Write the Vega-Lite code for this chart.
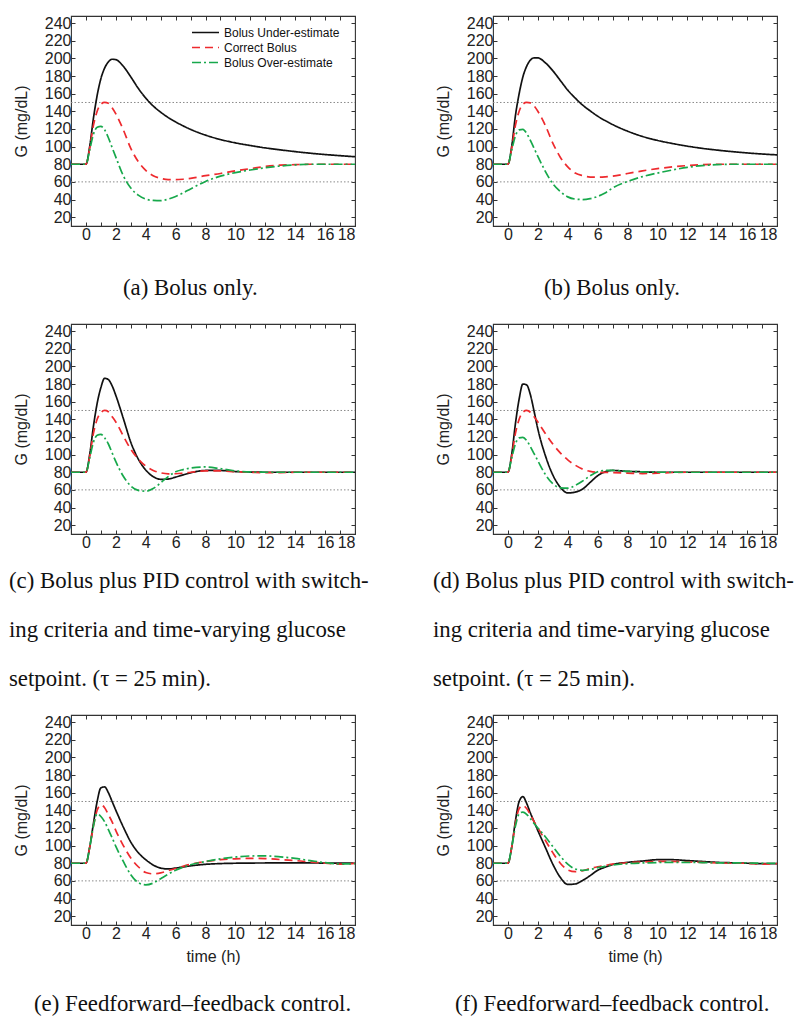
{
"$schema": "https://vega.github.io/schema/vega-lite/v6.json",
"padding": {"left": 8, "top": 14, "right": 0, "bottom": 0},
"background": "white",
"config": {
  "view": {"stroke": "#333333", "strokeWidth": 1.1},
  "axis": {"domain": false, "grid": false, "tickSize": -4, "tickColor": "#333333", "tickWidth": 1, "labelFont": "Liberation Sans", "labelFontSize": 16, "labelColor": "#222222", "labelPadding": 4, "titleFont": "Liberation Sans", "titleFontSize": 16, "titleFontWeight": "normal", "titleColor": "#222222", "titlePadding": 15},
  "title": {"font": "Liberation Serif", "fontSize": 22.8, "fontWeight": "normal", "color": "#111111", "orient": "bottom", "anchor": "start", "frame": "group", "align": "left"},
  "legend": {"orient": "none", "legendX": 120, "legendY": 9, "title": null, "labelFont": "Liberation Sans", "labelFontSize": 12, "labelColor": "#111111", "symbolType": "stroke", "symbolSize": 729, "symbolStrokeWidth": 1.7, "rowPadding": 0, "clipHeight": 15, "labelOffset": 4, "padding": 0}
},
"datasets": {
"curves": [
{"p":"a","t":-1,"U":80,"C":80,"O":80},{"p":"a","t":0,"U":80,"C":80,"O":80},{"p":"a","t":0.25,"U":100,"C":98,"O":96},{"p":"a","t":0.5,"U":132,"C":124,"O":114},{"p":"a","t":0.75,"U":158,"C":140,"O":122},{"p":"a","t":1,"U":177,"C":148,"O":123},{"p":"a","t":1.25,"U":189,"C":150,"O":119},{"p":"a","t":1.5,"U":196,"C":149,"O":110},{"p":"a","t":1.75,"U":199,"C":144,"O":99},{"p":"a","t":2,"U":198.5,"C":137,"O":88},{"p":"a","t":2.5,"U":191,"C":119,"O":67},{"p":"a","t":3,"U":179,"C":98,"O":53},{"p":"a","t":3.5,"U":166,"C":83,"O":45},{"p":"a","t":4,"U":155,"C":73,"O":40.5},{"p":"a","t":4.5,"U":146,"C":67,"O":39},{"p":"a","t":5,"U":139,"C":64,"O":38.7},{"p":"a","t":5.5,"U":133,"C":62.5,"O":40.5},{"p":"a","t":6,"U":128,"C":62.5,"O":43.5},{"p":"a","t":6.5,"U":123.5,"C":63,"O":47.5},{"p":"a","t":7,"U":119.5,"C":64,"O":52},{"p":"a","t":8,"U":113,"C":67,"O":60.5},{"p":"a","t":9,"U":108,"C":69.5,"O":66.5},{"p":"a","t":10,"U":104.2,"C":72.5,"O":70.5},{"p":"a","t":11,"U":101.2,"C":75,"O":73.5},{"p":"a","t":12,"U":98.5,"C":77.5,"O":76},{"p":"a","t":13,"U":96.3,"C":79,"O":78},{"p":"a","t":14,"U":94.3,"C":79.5,"O":79.3},{"p":"a","t":15,"U":92.5,"C":80,"O":80},{"p":"a","t":16,"U":91,"C":80,"O":80},{"p":"a","t":17,"U":89.7,"C":80,"O":80},{"p":"a","t":18,"U":88.5,"C":80,"O":80},
{"p":"b","t":-1,"U":80,"C":80,"O":80},{"p":"b","t":0,"U":80,"C":80,"O":80},{"p":"b","t":0.25,"U":100,"C":98,"O":96},{"p":"b","t":0.5,"U":135,"C":124,"O":112},{"p":"b","t":0.75,"U":160,"C":140,"O":119},{"p":"b","t":1,"U":179,"C":148,"O":119.5},{"p":"b","t":1.25,"U":191,"C":150,"O":115},{"p":"b","t":1.5,"U":198,"C":149.5,"O":107},{"p":"b","t":1.75,"U":200.5,"C":146,"O":98},{"p":"b","t":2,"U":200.5,"C":140,"O":89},{"p":"b","t":2.5,"U":195,"C":124,"O":72},{"p":"b","t":3,"U":186,"C":104,"O":58},{"p":"b","t":3.5,"U":175,"C":88,"O":49},{"p":"b","t":4,"U":164,"C":77,"O":43},{"p":"b","t":4.5,"U":155,"C":70,"O":40.5},{"p":"b","t":5,"U":147,"C":67,"O":40},{"p":"b","t":5.5,"U":140.5,"C":65.5,"O":41},{"p":"b","t":6,"U":134.5,"C":65.3,"O":43.5},{"p":"b","t":6.5,"U":129.5,"C":65.7,"O":47.5},{"p":"b","t":7,"U":125,"C":66.5,"O":53},{"p":"b","t":8,"U":117.5,"C":69.5,"O":60.5},{"p":"b","t":9,"U":111.5,"C":72.5,"O":66},{"p":"b","t":10,"U":107,"C":75,"O":70},{"p":"b","t":11,"U":103.5,"C":77,"O":73.5},{"p":"b","t":12,"U":100.5,"C":78.5,"O":76.5},{"p":"b","t":13,"U":98,"C":79.5,"O":78.5},{"p":"b","t":14,"U":96,"C":80,"O":79.5},{"p":"b","t":15,"U":94.3,"C":80,"O":80},{"p":"b","t":16,"U":92.8,"C":80,"O":80},{"p":"b","t":17,"U":91.6,"C":80,"O":80},{"p":"b","t":18,"U":90.6,"C":80,"O":80},
{"p":"c","t":-1,"U":80,"C":80,"O":80},{"p":"c","t":0,"U":80,"C":80,"O":80},{"p":"c","t":0.25,"U":100,"C":98,"O":96},{"p":"c","t":0.5,"U":132,"C":124,"O":114},{"p":"c","t":0.75,"U":158,"C":140,"O":122},{"p":"c","t":1,"U":176,"C":147.5,"O":123},{"p":"c","t":1.25,"U":186.5,"C":150,"O":119},{"p":"c","t":1.5,"U":185,"C":148.5,"O":112},{"p":"c","t":1.75,"U":178,"C":143,"O":102},{"p":"c","t":2,"U":167,"C":137,"O":92},{"p":"c","t":2.5,"U":141,"C":121,"O":75.5},{"p":"c","t":3,"U":114,"C":106,"O":64.5},{"p":"c","t":3.5,"U":95,"C":95,"O":59.5},{"p":"c","t":4,"U":82.5,"C":87,"O":58.5},{"p":"c","t":4.5,"U":75,"C":82,"O":61.5},{"p":"c","t":5,"U":72,"C":79.3,"O":68},{"p":"c","t":5.5,"U":72.3,"C":78.2,"O":75},{"p":"c","t":6,"U":74.5,"C":78.3,"O":80.5},{"p":"c","t":6.5,"U":77,"C":79,"O":83},{"p":"c","t":7,"U":79.3,"C":80,"O":84.8},{"p":"c","t":8,"U":82,"C":81.5,"O":86},{"p":"c","t":9,"U":82,"C":81.5,"O":84},{"p":"c","t":10,"U":80.8,"C":80.5,"O":81.5},{"p":"c","t":11,"U":80.2,"C":80,"O":80.3},{"p":"c","t":12,"U":80,"C":79.5,"O":80},{"p":"c","t":13,"U":80,"C":79.5,"O":80},{"p":"c","t":14,"U":80,"C":80,"O":80},{"p":"c","t":15,"U":80,"C":80,"O":80},{"p":"c","t":16,"U":80,"C":80,"O":80},{"p":"c","t":17,"U":80,"C":80,"O":80},{"p":"c","t":18,"U":80,"C":80,"O":80},
{"p":"d","t":-1,"U":80,"C":80,"O":80},{"p":"d","t":0,"U":80,"C":80,"O":80},{"p":"d","t":0.25,"U":100,"C":98,"O":96},{"p":"d","t":0.5,"U":135,"C":124,"O":112},{"p":"d","t":0.75,"U":163,"C":140,"O":119},{"p":"d","t":1,"U":180,"C":148,"O":119.5},{"p":"d","t":1.25,"U":179,"C":150,"O":116},{"p":"d","t":1.5,"U":168,"C":148,"O":109},{"p":"d","t":1.75,"U":149,"C":143,"O":101},{"p":"d","t":2,"U":129,"C":137,"O":93},{"p":"d","t":2.5,"U":99,"C":124,"O":77.5},{"p":"d","t":3,"U":77,"C":112,"O":67},{"p":"d","t":3.5,"U":63,"C":102,"O":62.3},{"p":"d","t":4,"U":56.5,"C":94,"O":62},{"p":"d","t":4.5,"U":57.5,"C":88,"O":65},{"p":"d","t":5,"U":61,"C":83.5,"O":70},{"p":"d","t":5.5,"U":68.5,"C":81,"O":76},{"p":"d","t":6,"U":76,"C":80,"O":80.5},{"p":"d","t":6.5,"U":80.5,"C":79.8,"O":82},{"p":"d","t":7,"U":82,"C":79.5,"O":82},{"p":"d","t":8,"U":81,"C":79,"O":81},{"p":"d","t":9,"U":80.5,"C":78.5,"O":80.5},{"p":"d","t":10,"U":80,"C":79,"O":80},{"p":"d","t":11,"U":80,"C":79.7,"O":80},{"p":"d","t":12,"U":80,"C":80,"O":80},{"p":"d","t":13,"U":80,"C":80,"O":80},{"p":"d","t":14,"U":80,"C":80,"O":80},{"p":"d","t":15,"U":80,"C":80,"O":80},{"p":"d","t":16,"U":80,"C":80,"O":80},{"p":"d","t":17,"U":80,"C":80,"O":80},{"p":"d","t":18,"U":80,"C":80,"O":80},
{"p":"e","t":-1,"U":80,"C":80,"O":80},{"p":"e","t":0,"U":80,"C":80,"O":80},{"p":"e","t":0.25,"U":98,"C":98,"O":98},{"p":"e","t":0.5,"U":125,"C":122,"O":122},{"p":"e","t":0.75,"U":150,"C":140,"O":136},{"p":"e","t":1,"U":165.5,"C":146,"O":133},{"p":"e","t":1.25,"U":166.5,"C":143,"O":127},{"p":"e","t":1.5,"U":160,"C":135,"O":118},{"p":"e","t":1.75,"U":150,"C":127,"O":109},{"p":"e","t":2,"U":140,"C":117,"O":99},{"p":"e","t":2.5,"U":121,"C":100,"O":82},{"p":"e","t":3,"U":104,"C":86,"O":67},{"p":"e","t":3.5,"U":92,"C":76,"O":58},{"p":"e","t":4,"U":84,"C":69.5,"O":55.5},{"p":"e","t":4.5,"U":78,"C":68,"O":57.5},{"p":"e","t":5,"U":74.5,"C":69,"O":62.5},{"p":"e","t":5.5,"U":73.5,"C":71.5,"O":67.5},{"p":"e","t":6,"U":74.5,"C":74,"O":72},{"p":"e","t":6.5,"U":75.8,"C":76.5,"O":75.5},{"p":"e","t":7,"U":77,"C":78.8,"O":78.3},{"p":"e","t":8,"U":78.8,"C":82,"O":82},{"p":"e","t":9,"U":79.6,"C":84,"O":85},{"p":"e","t":10,"U":80,"C":85,"O":87},{"p":"e","t":11,"U":80.2,"C":85.5,"O":88.2},{"p":"e","t":12,"U":80.3,"C":85.3,"O":88.3},{"p":"e","t":13,"U":80.4,"C":84.2,"O":87.3},{"p":"e","t":14,"U":80.4,"C":83,"O":85.5},{"p":"e","t":15,"U":80.3,"C":81.5,"O":83},{"p":"e","t":16,"U":80.2,"C":80,"O":80.6},{"p":"e","t":17,"U":80.1,"C":79,"O":79.2},{"p":"e","t":18,"U":80,"C":79.8,"O":79.5},
{"p":"f","t":-1,"U":80,"C":80,"O":80},{"p":"f","t":0,"U":80,"C":80,"O":80},{"p":"f","t":0.25,"U":98,"C":98,"O":98},{"p":"f","t":0.5,"U":128,"C":125,"O":122},{"p":"f","t":0.75,"U":150,"C":142,"O":136},{"p":"f","t":1,"U":155.5,"C":145.5,"O":138},{"p":"f","t":1.25,"U":148,"C":142,"O":135.5},{"p":"f","t":1.5,"U":137,"C":135,"O":130.5},{"p":"f","t":1.75,"U":127,"C":127,"O":125},{"p":"f","t":2,"U":117,"C":120,"O":120},{"p":"f","t":2.5,"U":98,"C":106,"O":110},{"p":"f","t":3,"U":79,"C":92,"O":99},{"p":"f","t":3.5,"U":64,"C":80,"O":88},{"p":"f","t":4,"U":56,"C":72.5,"O":79},{"p":"f","t":4.5,"U":56.5,"C":70.5,"O":73.5},{"p":"f","t":5,"U":60.5,"C":71.5,"O":72},{"p":"f","t":5.5,"U":66,"C":74,"O":73},{"p":"f","t":6,"U":72,"C":76,"O":75},{"p":"f","t":6.5,"U":75.5,"C":77.5,"O":76.5},{"p":"f","t":7,"U":78.5,"C":79,"O":78},{"p":"f","t":8,"U":81,"C":80.5,"O":79.5},{"p":"f","t":9,"U":82.5,"C":81.5,"O":80.3},{"p":"f","t":10,"U":84,"C":82,"O":80.8},{"p":"f","t":11,"U":84,"C":82,"O":81},{"p":"f","t":12,"U":83,"C":81.5,"O":81},{"p":"f","t":13,"U":82,"C":81,"O":80.8},{"p":"f","t":14,"U":81,"C":80.5,"O":80.5},{"p":"f","t":15,"U":80.5,"C":80,"O":80.4},{"p":"f","t":16,"U":80,"C":80,"O":80.3},{"p":"f","t":17,"U":79.5,"C":79,"O":80},{"p":"f","t":18,"U":79.5,"C":79.5,"O":80}
],
"refs": [{"G": 150}, {"G": 60}]
},
"spacing": 21,
"vconcat": [
{"hconcat": [
{"width": 284, "height": 210,
 "title": {"text": "(a) Bolus only.", "dx": 52, "offset": 35},
 "resolve": {"axis": {"x": "independent", "y": "independent"}},
 "layer": [
  {"data": {"name": "refs"}, "mark": {"type": "rule", "color": "#8a8a8a", "strokeDash": [1.5, 2], "strokeWidth": 1},
   "encoding": {
    "x": {"datum": -1, "type": "quantitative", "scale": {"domain": [-1, 18], "nice": false, "zero": false}, "axis": {"orient": "top", "labels": false, "title": null, "values": [-1,0,1,2,3,4,5,6,7,8,9,10,11,12,13,14,15,16,17,18]}},
    "x2": {"datum": 18},
    "y": {"field": "G", "type": "quantitative", "scale": {"domain": [10, 248], "nice": false, "zero": false}, "axis": {"orient": "right", "labels": false, "title": null, "values": [20,40,60,80,100,120,140,160,180,200,220,240]}}}},
  {"data": {"name": "curves"}, "transform": [{"filter": "datum.p == 'a'"}, {"fold": ["U", "C", "O"], "as": ["s", "G"]}],
   "mark": {"type": "line", "interpolate": "monotone", "strokeWidth": 1.7},
   "encoding": {
    "x": {"field": "t", "type": "quantitative", "axis": {"orient": "bottom", "title": null, "values": [-1,0,1,2,3,4,5,6,7,8,9,10,11,12,13,14,15,16,17,18], "labelExpr": "datum.value >= 0 && datum.value % 2 == 0 ? datum.label : ''"}},
    "y": {"field": "G", "type": "quantitative", "axis": {"orient": "left", "title": "G (mg/dL)", "values": [20,40,60,80,100,120,140,160,180,200,220,240]}},
    "color": {"field": "s", "type": "nominal", "sort": null, "scale": {"domain": ["U", "C", "O"], "range": ["#111111", "#ee2a2e", "#17a84b"]}, "legend": {"labelExpr": "datum.label == 'U' ? 'Bolus Under-estimate' : datum.label == 'C' ? 'Correct Bolus' : 'Bolus Over-estimate'"}},
    "strokeDash": {"field": "s", "type": "nominal", "sort": null, "scale": {"domain": ["U", "C", "O"], "range": [[1, 0], [8, 5], [9, 3, 2, 3]]}, "legend": {"labelExpr": "datum.label == 'U' ? 'Bolus Under-estimate' : datum.label == 'C' ? 'Correct Bolus' : 'Bolus Over-estimate'"}}}}
 ]},
{"width": 284, "height": 210,
 "title": {"text": "(b) Bolus only.", "dx": 51, "offset": 35},
 "resolve": {"axis": {"x": "independent", "y": "independent"}},
 "layer": [
  {"data": {"name": "refs"}, "mark": {"type": "rule", "color": "#8a8a8a", "strokeDash": [1.5, 2], "strokeWidth": 1},
   "encoding": {
    "x": {"datum": -1, "type": "quantitative", "scale": {"domain": [-1, 18], "nice": false, "zero": false}, "axis": {"orient": "top", "labels": false, "title": null, "values": [-1,0,1,2,3,4,5,6,7,8,9,10,11,12,13,14,15,16,17,18]}},
    "x2": {"datum": 18},
    "y": {"field": "G", "type": "quantitative", "scale": {"domain": [10, 248], "nice": false, "zero": false}, "axis": {"orient": "right", "labels": false, "title": null, "values": [20,40,60,80,100,120,140,160,180,200,220,240]}}}},
  {"data": {"name": "curves"}, "transform": [{"filter": "datum.p == 'b'"}, {"fold": ["U", "C", "O"], "as": ["s", "G"]}],
   "mark": {"type": "line", "interpolate": "monotone", "strokeWidth": 1.7},
   "encoding": {
    "x": {"field": "t", "type": "quantitative", "axis": {"orient": "bottom", "title": null, "values": [-1,0,1,2,3,4,5,6,7,8,9,10,11,12,13,14,15,16,17,18], "labelExpr": "datum.value >= 0 && datum.value % 2 == 0 ? datum.label : ''"}},
    "y": {"field": "G", "type": "quantitative", "axis": {"orient": "left", "title": "G (mg/dL)", "values": [20,40,60,80,100,120,140,160,180,200,220,240]}},
    "color": {"field": "s", "type": "nominal", "sort": null, "scale": {"domain": ["U", "C", "O"], "range": ["#111111", "#ee2a2e", "#17a84b"]}, "legend": {"labelExpr": "datum.label == 'U' ? 'Bolus Under-estimate' : datum.label == 'C' ? 'Correct Bolus' : 'Bolus Over-estimate'"}},
    "strokeDash": {"field": "s", "type": "nominal", "sort": null, "scale": {"domain": ["U", "C", "O"], "range": [[1, 0], [8, 5], [9, 3, 2, 3]]}, "legend": {"labelExpr": "datum.label == 'U' ? 'Bolus Under-estimate' : datum.label == 'C' ? 'Correct Bolus' : 'Bolus Over-estimate'"}}}}
 ]}
], "spacing": 138, "bounds": "flush"},
{"hconcat": [
{"width": 284, "height": 210,
 "title": {"text": ["(c) Bolus plus PID control with switch-", "ing criteria and time-varying glucose", "setpoint. (τ = 25 min)."], "dx": -62, "offset": 20, "lineHeight": 49},
 "resolve": {"axis": {"x": "independent", "y": "independent"}},
 "layer": [
  {"data": {"name": "refs"}, "mark": {"type": "rule", "color": "#8a8a8a", "strokeDash": [1.5, 2], "strokeWidth": 1},
   "encoding": {
    "x": {"datum": -1, "type": "quantitative", "scale": {"domain": [-1, 18], "nice": false, "zero": false}, "axis": {"orient": "top", "labels": false, "title": null, "values": [-1,0,1,2,3,4,5,6,7,8,9,10,11,12,13,14,15,16,17,18]}},
    "x2": {"datum": 18},
    "y": {"field": "G", "type": "quantitative", "scale": {"domain": [10, 248], "nice": false, "zero": false}, "axis": {"orient": "right", "labels": false, "title": null, "values": [20,40,60,80,100,120,140,160,180,200,220,240]}}}},
  {"data": {"name": "curves"}, "transform": [{"filter": "datum.p == 'c'"}, {"fold": ["U", "C", "O"], "as": ["s", "G"]}],
   "mark": {"type": "line", "interpolate": "monotone", "strokeWidth": 1.7},
   "encoding": {
    "x": {"field": "t", "type": "quantitative", "axis": {"orient": "bottom", "title": null, "values": [-1,0,1,2,3,4,5,6,7,8,9,10,11,12,13,14,15,16,17,18], "labelExpr": "datum.value >= 0 && datum.value % 2 == 0 ? datum.label : ''"}},
    "y": {"field": "G", "type": "quantitative", "axis": {"orient": "left", "title": "G (mg/dL)", "values": [20,40,60,80,100,120,140,160,180,200,220,240]}},
    "color": {"field": "s", "type": "nominal", "sort": null, "scale": {"domain": ["U", "C", "O"], "range": ["#111111", "#ee2a2e", "#17a84b"]}, "legend": {"labelExpr": "datum.label == 'U' ? 'Bolus Under-estimate' : datum.label == 'C' ? 'Correct Bolus' : 'Bolus Over-estimate'"}},
    "strokeDash": {"field": "s", "type": "nominal", "sort": null, "scale": {"domain": ["U", "C", "O"], "range": [[1, 0], [8, 5], [9, 3, 2, 3]]}, "legend": {"labelExpr": "datum.label == 'U' ? 'Bolus Under-estimate' : datum.label == 'C' ? 'Correct Bolus' : 'Bolus Over-estimate'"}}}}
 ]},
{"width": 284, "height": 210,
 "title": {"text": ["(d) Bolus plus PID control with switch-", "ing criteria and time-varying glucose", "setpoint. (τ = 25 min)."], "dx": -60, "offset": 20, "lineHeight": 49},
 "resolve": {"axis": {"x": "independent", "y": "independent"}},
 "layer": [
  {"data": {"name": "refs"}, "mark": {"type": "rule", "color": "#8a8a8a", "strokeDash": [1.5, 2], "strokeWidth": 1},
   "encoding": {
    "x": {"datum": -1, "type": "quantitative", "scale": {"domain": [-1, 18], "nice": false, "zero": false}, "axis": {"orient": "top", "labels": false, "title": null, "values": [-1,0,1,2,3,4,5,6,7,8,9,10,11,12,13,14,15,16,17,18]}},
    "x2": {"datum": 18},
    "y": {"field": "G", "type": "quantitative", "scale": {"domain": [10, 248], "nice": false, "zero": false}, "axis": {"orient": "right", "labels": false, "title": null, "values": [20,40,60,80,100,120,140,160,180,200,220,240]}}}},
  {"data": {"name": "curves"}, "transform": [{"filter": "datum.p == 'd'"}, {"fold": ["U", "C", "O"], "as": ["s", "G"]}],
   "mark": {"type": "line", "interpolate": "monotone", "strokeWidth": 1.7},
   "encoding": {
    "x": {"field": "t", "type": "quantitative", "axis": {"orient": "bottom", "title": null, "values": [-1,0,1,2,3,4,5,6,7,8,9,10,11,12,13,14,15,16,17,18], "labelExpr": "datum.value >= 0 && datum.value % 2 == 0 ? datum.label : ''"}},
    "y": {"field": "G", "type": "quantitative", "axis": {"orient": "left", "title": "G (mg/dL)", "values": [20,40,60,80,100,120,140,160,180,200,220,240]}},
    "color": {"field": "s", "type": "nominal", "sort": null, "scale": {"domain": ["U", "C", "O"], "range": ["#111111", "#ee2a2e", "#17a84b"]}, "legend": {"labelExpr": "datum.label == 'U' ? 'Bolus Under-estimate' : datum.label == 'C' ? 'Correct Bolus' : 'Bolus Over-estimate'"}},
    "strokeDash": {"field": "s", "type": "nominal", "sort": null, "scale": {"domain": ["U", "C", "O"], "range": [[1, 0], [8, 5], [9, 3, 2, 3]]}, "legend": {"labelExpr": "datum.label == 'U' ? 'Bolus Under-estimate' : datum.label == 'C' ? 'Correct Bolus' : 'Bolus Over-estimate'"}}}}
 ]}
], "spacing": 138, "bounds": "flush"},
{"hconcat": [
{"width": 284, "height": 210,
 "title": {"text": "(e) Feedforward–feedback control.", "dx": -37, "offset": 29},
 "resolve": {"axis": {"x": "independent", "y": "independent"}},
 "layer": [
  {"data": {"name": "refs"}, "mark": {"type": "rule", "color": "#8a8a8a", "strokeDash": [1.5, 2], "strokeWidth": 1},
   "encoding": {
    "x": {"datum": -1, "type": "quantitative", "scale": {"domain": [-1, 18], "nice": false, "zero": false}, "axis": {"orient": "top", "labels": false, "title": null, "values": [-1,0,1,2,3,4,5,6,7,8,9,10,11,12,13,14,15,16,17,18]}},
    "x2": {"datum": 18},
    "y": {"field": "G", "type": "quantitative", "scale": {"domain": [10, 248], "nice": false, "zero": false}, "axis": {"orient": "right", "labels": false, "title": null, "values": [20,40,60,80,100,120,140,160,180,200,220,240]}}}},
  {"data": {"name": "curves"}, "transform": [{"filter": "datum.p == 'e'"}, {"fold": ["U", "C", "O"], "as": ["s", "G"]}],
   "mark": {"type": "line", "interpolate": "monotone", "strokeWidth": 1.7},
   "encoding": {
    "x": {"field": "t", "type": "quantitative", "axis": {"orient": "bottom", "title": "time (h)", "titlePadding": 7, "values": [-1,0,1,2,3,4,5,6,7,8,9,10,11,12,13,14,15,16,17,18], "labelExpr": "datum.value >= 0 && datum.value % 2 == 0 ? datum.label : ''"}},
    "y": {"field": "G", "type": "quantitative", "axis": {"orient": "left", "title": "G (mg/dL)", "values": [20,40,60,80,100,120,140,160,180,200,220,240]}},
    "color": {"field": "s", "type": "nominal", "sort": null, "scale": {"domain": ["U", "C", "O"], "range": ["#111111", "#ee2a2e", "#17a84b"]}, "legend": {"labelExpr": "datum.label == 'U' ? 'Bolus Under-estimate' : datum.label == 'C' ? 'Correct Bolus' : 'Bolus Over-estimate'"}},
    "strokeDash": {"field": "s", "type": "nominal", "sort": null, "scale": {"domain": ["U", "C", "O"], "range": [[1, 0], [8, 5], [9, 3, 2, 3]]}, "legend": {"labelExpr": "datum.label == 'U' ? 'Bolus Under-estimate' : datum.label == 'C' ? 'Correct Bolus' : 'Bolus Over-estimate'"}}}}
 ]},
{"width": 284, "height": 210,
 "title": {"text": "(f) Feedforward–feedback control.", "dx": -38, "offset": 29},
 "resolve": {"axis": {"x": "independent", "y": "independent"}},
 "layer": [
  {"data": {"name": "refs"}, "mark": {"type": "rule", "color": "#8a8a8a", "strokeDash": [1.5, 2], "strokeWidth": 1},
   "encoding": {
    "x": {"datum": -1, "type": "quantitative", "scale": {"domain": [-1, 18], "nice": false, "zero": false}, "axis": {"orient": "top", "labels": false, "title": null, "values": [-1,0,1,2,3,4,5,6,7,8,9,10,11,12,13,14,15,16,17,18]}},
    "x2": {"datum": 18},
    "y": {"field": "G", "type": "quantitative", "scale": {"domain": [10, 248], "nice": false, "zero": false}, "axis": {"orient": "right", "labels": false, "title": null, "values": [20,40,60,80,100,120,140,160,180,200,220,240]}}}},
  {"data": {"name": "curves"}, "transform": [{"filter": "datum.p == 'f'"}, {"fold": ["U", "C", "O"], "as": ["s", "G"]}],
   "mark": {"type": "line", "interpolate": "monotone", "strokeWidth": 1.7},
   "encoding": {
    "x": {"field": "t", "type": "quantitative", "axis": {"orient": "bottom", "title": "time (h)", "titlePadding": 7, "values": [-1,0,1,2,3,4,5,6,7,8,9,10,11,12,13,14,15,16,17,18], "labelExpr": "datum.value >= 0 && datum.value % 2 == 0 ? datum.label : ''"}},
    "y": {"field": "G", "type": "quantitative", "axis": {"orient": "left", "title": "G (mg/dL)", "values": [20,40,60,80,100,120,140,160,180,200,220,240]}},
    "color": {"field": "s", "type": "nominal", "sort": null, "scale": {"domain": ["U", "C", "O"], "range": ["#111111", "#ee2a2e", "#17a84b"]}, "legend": {"labelExpr": "datum.label == 'U' ? 'Bolus Under-estimate' : datum.label == 'C' ? 'Correct Bolus' : 'Bolus Over-estimate'"}},
    "strokeDash": {"field": "s", "type": "nominal", "sort": null, "scale": {"domain": ["U", "C", "O"], "range": [[1, 0], [8, 5], [9, 3, 2, 3]]}, "legend": {"labelExpr": "datum.label == 'U' ? 'Bolus Under-estimate' : datum.label == 'C' ? 'Correct Bolus' : 'Bolus Over-estimate'"}}}}
 ]}
], "spacing": 138, "bounds": "flush"}
]
}
